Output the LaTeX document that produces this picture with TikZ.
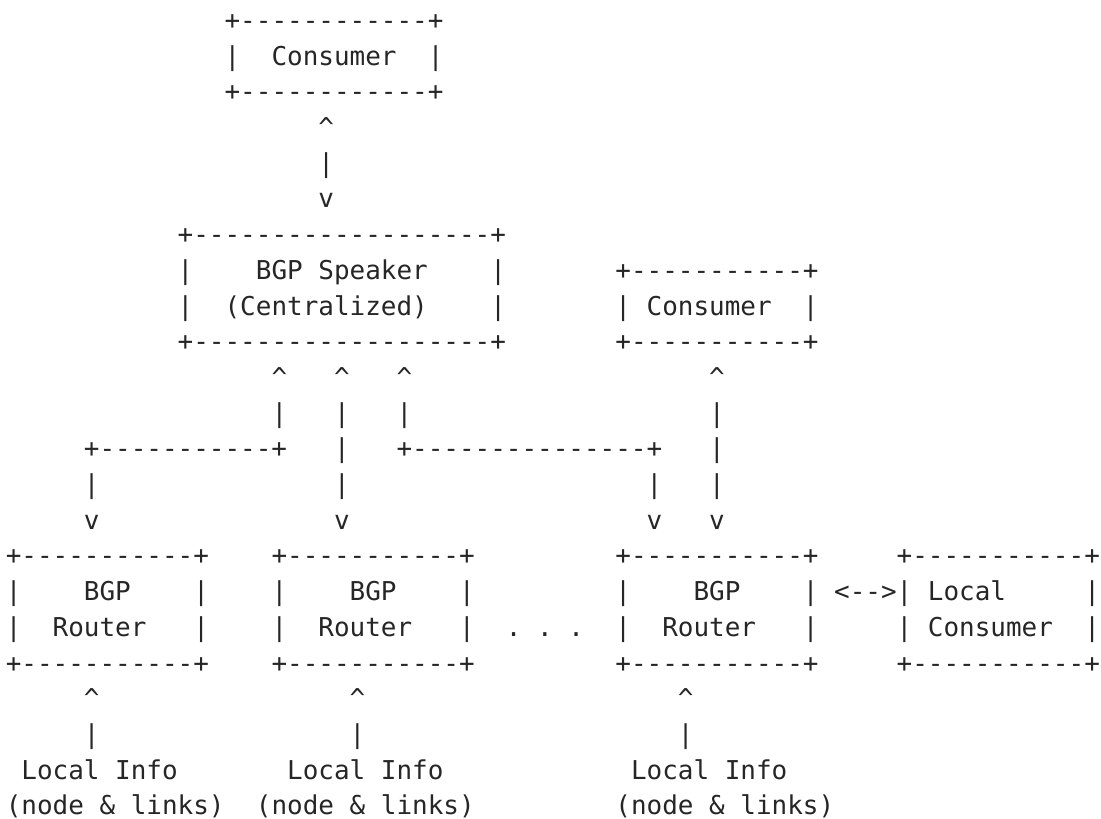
\documentclass[tikz,border=0pt]{standalone}
\usepackage{fontspec}
\setmonofont{DejaVu Sans Mono}

\begin{document}
\begin{tikzpicture}[x=6.0205pt, y=-13.751pt]
	\tikzset{asc/.style = {anchor=base west, inner sep=0pt, outer sep=0pt, font=\ttfamily\fontsize{10pt}{12pt}\selectfont, text=black!85}}
	\useasboundingbox (-0.371,-0.826) rectangle (70.07,22.09);
	% consumer on top
	\node[asc] (cons1t) at (14,0) {+------------+};
	\node[asc] (cons1l) at (14,1) {|};
	\node[asc] (cons1) at (17,1) {Consumer};
	\node[asc] (cons1r) at (27,1) {|};
	\node[asc] (cons1b) at (14,2) {+------------+};
	\node[asc] (up0) at (20,3) {\textasciicircum};
	\node[asc] (bar0) at (20,4) {|};
	\node[asc] (down0) at (20,5) {v};
	% bgp speaker
	\node[asc] (spkt) at (11,6) {+-------------------+};
	\node[asc] (spkl1) at (11,7) {|};
	\node[asc] (spk1) at (16,7) {BGP Speaker};
	\node[asc] (spkr1) at (31,7) {|};
	\node[asc] (spkl2) at (11,8) {|};
	\node[asc] (spk2) at (14,8) {(Centralized)};
	\node[asc] (spkr2) at (31,8) {|};
	\node[asc] (spkb) at (11,9) {+-------------------+};
	% second consumer
	\node[asc] (cons2t) at (39,7) {+-----------+};
	\node[asc] (cons2l) at (39,8) {|};
	\node[asc] (cons2) at (41,8) {Consumer};
	\node[asc] (cons2r) at (51,8) {|};
	\node[asc] (cons2b) at (39,9) {+-----------+};
	% arrows down to the routers
	\foreach \c in {17,21,25,45} {
		\node[asc] (up\c) at (\c,10) {\textasciicircum};
		\node[asc] (bar\c) at (\c,11) {|};
	}
	\node[asc] (linkl) at (5,12) {+-----------+};
	\node[asc] (bar21b) at (21,12) {|};
	\node[asc] (linkr) at (25,12) {+---------------+};
	\node[asc] (bar45b) at (45,12) {|};
	\foreach \c in {5,21,41,45} {
		\node[asc] (barc\c) at (\c,13) {|};
		\node[asc] (down\c) at (\c,14) {v};
	}
	% bgp routers
	\foreach \c in {0,17,39} {
		\node[asc] (rt\c) at (\c,15) {+-----------+};
		\node[asc] (rl\c) at (\c,16) {|};
		\node[asc] (bgp\c) at (\c+5,16) {BGP};
		\node[asc] (rr\c) at (\c+12,16) {|};
		\node[asc] (rl\c b) at (\c,17) {|};
		\node[asc] (router\c) at (\c+3,17) {Router};
		\node[asc] (rr\c b) at (\c+12,17) {|};
		\node[asc] (rb\c) at (\c,18) {+-----------+};
	}
	\node[asc] (dots) at (32,17) {. . .};
	\node[asc] (both) at (53,16) {<-->};
	% local consumer
	\node[asc] (lct) at (57,15) {+-----------+};
	\node[asc] (lcl1) at (57,16) {|};
	\node[asc] (lc1) at (59,16) {Local};
	\node[asc] (lcr1) at (69,16) {|};
	\node[asc] (lcl2) at (57,17) {|};
	\node[asc] (lc2) at (59,17) {Consumer};
	\node[asc] (lcr2) at (69,17) {|};
	\node[asc] (lcb) at (57,18) {+-----------+};
	% local info
	\foreach \c/\i/\n in {5/1/0,22/18/16,43/40/39} {
		\node[asc] (upi\c) at (\c,19) {\textasciicircum};
		\node[asc] (bari\c) at (\c,20) {|};
		\node[asc] (info\c) at (\i,21) {Local Info};
		\node[asc] (nl\c) at (\n,22) {(node \& links)};
	}
\end{tikzpicture}
\end{document}
